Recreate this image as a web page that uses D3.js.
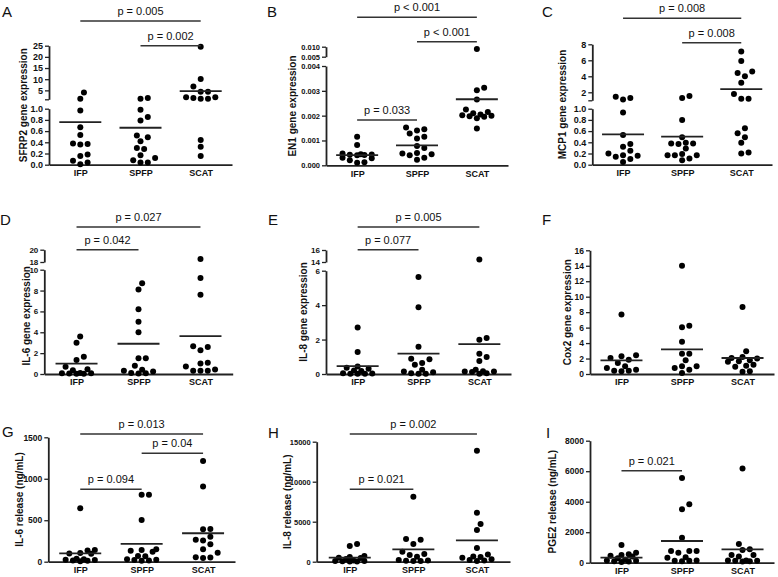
<!DOCTYPE html>
<html lang="en">
<head>
<meta charset="UTF-8">
<title>Fat depot gene expression and release</title>
<style>
  body { margin: 0; background: #fff; }
  svg { display: block; font-family: Arial, "Liberation Sans", Helvetica, sans-serif; }
  .axis path, .axis line { stroke: #222; }
  .axis path { stroke-width: 1.8px; }
  .axis line { stroke-width: 1.3px; }
  .axis text { fill: #111; font-weight: bold; }
  .xaxis text { font-size: 9px; }
  .ylabel { font-size: 10px; font-weight: bold; fill: #111; }
  .letter { font-size: 15px; fill: #111; }
  .ptext { font-size: 11px; fill: #111; }
  .bar { stroke: #333; stroke-width: 1.6px; }
  .mean { stroke: #222; stroke-width: 1.8px; }
  .dot { fill: #000; }
</style>
</head>
<body>
<svg id="fig" width="778" height="577"></svg>

<script src="https://d3js.org/d3.v7.min.js"></script>
<script>
// ---- data ----
const groups = ["IFP", "SPFP", "SCAT"];

// A  SFRP2 gene expression
const sfrp2 = [
  [4.1, 1.3, 0.97, 0.67, 0.53, 0.38, 0.37, 0.36, 0.18, 0.155, 0.07, 0.04, 0.01],
  [1.6, 1.2, 0.98, 0.85, 0.79, 0.52, 0.49, 0.42, 0.30, 0.28, 0.17, 0.12, 0.08, 0.04, 0.04],
  [24.5, 10.1, 6.7, 4.4, 4.4, 1.9, 1.9, 1.6, 1.3, 1.3, 0.44, 0.32, 0.155]
];
const sfrp2Mean = [0.76, 0.66, 4.7];
const sfrp2Ticks = [[0, 0.2, 0.4, 0.6, 0.8, 1.0], [1, 5, 10, 15, 20, 25]];
const sfrp2Stats = [["IFP", "SCAT", "p = 0.005"], ["SPFP", "SCAT", "p = 0.002"]];

// B  EN1 gene expression
const en1 = [
  [0.00115, 0.00082, 0.00048, 0.00045, 0.00044, 0.00042, 0.00041, 0.00040, 0.00030, 0.00028, 0.00020, 0.00012, 0.00010],
  [0.00152, 0.00145, 0.00140, 0.00128, 0.00115, 0.00108, 0.00078, 0.00070, 0.00050, 0.00048, 0.00045, 0.00040, 0.00030, 0.00022],
  [0.0088, 0.00312, 0.00302, 0.00265, 0.00225, 0.00215, 0.00210, 0.00205, 0.00202, 0.00200, 0.00198, 0.00196, 0.00190, 0.00148]
];
const en1Mean = [0.00041, 0.0008, 0.00266];
const en1Ticks = [[0, 0.001, 0.002, 0.003, 0.004], [0.005, 0.010]];
const en1Stats = [["IFP", "SCAT", "p < 0.001"], ["SPFP", "SCAT", "p < 0.001"], ["IFP", "SPFP", "p = 0.033"]];

// C  MCP1 gene expression
const mcp1 = [
  [1.45, 1.3, 1.1, 0.93, 0.53, 0.37, 0.32, 0.25, 0.2, 0.17, 0.16, 0.14, 0.1, 0.05],
  [1.55, 1.3, 0.8, 0.49, 0.39, 0.38, 0.38, 0.37, 0.29, 0.19, 0.17, 0.17, 0.17, 0.11, 0.08],
  [7.1, 5.9, 4.6, 4.4, 4.0, 3.2, 1.8, 1.2, 1.2, 0.65, 0.56, 0.49, 0.39, 0.22, 0.2]
];
const mcp1Mean = [0.54, 0.5, 2.4];
const mcp1Ticks = [[0, 0.2, 0.4, 0.6, 0.8, 1.0], [1, 2, 4, 6, 8]];
const mcp1Stats = [["IFP", "SCAT", "p = 0.008"], ["SPFP", "SCAT", "p = 0.008"]];

// D  IL-6 gene expression
const il6Gene = [
  [3.6, 3.0, 1.66, 1.34, 0.7, 0.45, 0.35, 0.1, 0.08, 0.06, 0.04, 0.03, 0.02],
  [8.7, 8.1, 6.2, 5.0, 4.0, 1.5, 1.5, 0.8, 0.4, 0.3, 0.25, 0.1, 0.06, 0.05],
  [18.5, 9.2, 7.6, 2.65, 2.6, 2.27, 1.09, 1.0, 0.73, 0.42, 0.32, 0.32, 0.3]
];
const il6GeneMean = [1.0, 2.9, 3.64];
const il6GeneTicks = [[0, 2, 4, 6, 8, 10], [18, 20]];
const il6GeneStats = [["IFP", "SCAT", "p = 0.027"], ["IFP", "SPFP", "p = 0.042"]];

// E  IL-8 gene expression
const il8Gene = [
  [2.7, 1.28, 0.44, 0.36, 0.3, 0.2, 0.18, 0.05, 0.03, 0.02, 0.02, 0.01],
  [5.63, 3.87, 1.59, 0.89, 0.85, 0.64, 0.54, 0.25, 0.15, 0.1, 0.05, 0.02, 0.02],
  [14.4, 2.09, 1.99, 1.18, 0.99, 0.75, 0.25, 0.16, 0.15, 0.14, 0.12, 0.05, 0.02]
];
const il8GeneMean = [0.46, 1.18, 1.74];
const il8GeneTicks = [[0, 2, 4, 6], [14, 16]];
const il8GeneStats = [["IFP", "SCAT", "p = 0.005"], ["IFP", "SPFP", "p = 0.077"]];

// F  Cox2 gene expression
const cox2 = [
  [7.68, 2.41, 2.29, 2.07, 1.85, 1.42, 1.0, 0.78, 0.56, 0.43, 0.43, 0.34],
  [14.0, 6.25, 6.04, 4.18, 2.63, 2.63, 1.77, 1.0, 1.0, 0.78, 0.56, 0.13],
  [8.67, 2.93, 2.2, 2.07, 2.0, 1.77, 1.64, 1.6, 1.2, 1.08, 0.95, 0.34, 0.3]
];
const cox2Mean = [1.77, 3.19, 2.07];
const cox2Ticks = [[0, 2, 4, 6, 8, 10, 12, 14, 16]];
const cox2Stats = [];

// G  IL-6 release (ng/mL)
const il6Rel = [
  [645, 141, 135, 105, 100, 95, 35, 30, 25, 20, 15, 10, 5],
  [806, 806, 504, 150, 141, 133, 121, 69, 65, 30, 24, 20, 15, 10],
  [1214, 906, 395, 390, 300, 265, 255, 210, 150, 109, 55, 50, 45]
];
const il6RelMean = [101, 214, 343];
const il6RelTicks = [[0, 500, 1000, 1500]];
const il6RelStats = [["IFP", "SCAT", "p = 0.013"], ["SPFP", "SCAT", "p = 0.04"], ["IFP", "SPFP", "p = 0.094"]];

// H  IL-8 release (ng/mL)
const il8Rel = [
  [2200, 1950, 700, 600, 500, 450, 350, 150, 100, 80, 50, 30, 20],
  [8125, 2840, 2750, 2210, 1250, 960, 840, 620, 200, 150, 120, 100, 80],
  [13875, 6125, 4710, 3960, 1710, 900, 650, 600, 500, 300, 200, 150, 100]
];
const il8RelMean = [500, 1550, 2675];
const il8RelTicks = [[0, 5000, 10000, 15000]];
const il8RelStats = [["IFP", "SCAT", "p = 0.002"], ["IFP", "SPFP", "p = 0.021"]];

// I  PGE2 release (ng/mL)
const pge2 = [
  [1160, 650, 550, 500, 450, 400, 300, 200, 150, 120, 100, 80, 50],
  [5546, 3830, 3500, 1640, 770, 770, 770, 660, 360, 330, 150, 130, 120, 100],
  [6180, 1226, 878, 833, 505, 505, 400, 150, 150, 130, 120, 100, 80]
];
const pge2Mean = [328, 1423, 878];
const pge2Ticks = [[0, 2000, 4000, 6000, 8000]];
const pge2Stats = [["IFP", "SPFP", "p = 0.021"]];

// ---- panel layout (pixel boxes, axis segments) ----
const panels = [
  { letter: "A", lx: 2, ly: 17, data: sfrp2, mean: sfrp2Mean, ticks: sfrp2Ticks, stats: sfrp2Stats,
    ylabel: "SFRP2 gene expression", ylabelX: 23, x0: 49, x1: 232, tickFont: 9, fmt: ".1f", upFmt: "d", blankBreak: true,
    segs: [{ domain: [0, 1], range: [164.7, 108.7] }, { domain: [1, 25], range: [99.3, 45.7] }], barY: [21, 45.7] },
  { letter: "B", lx: 267, ly: 17, data: en1, mean: en1Mean, ticks: en1Ticks, stats: en1Stats,
    ylabel: "EN1 gene expression", ylabelX: 292, x0: 326, x1: 508, tickFont: 7.5, fmt: ".3f", upFmt: ".3f",
    segs: [{ domain: [0, 0.004], range: [165.3, 66] }, { domain: [0.005, 0.010], range: [56.7, 46.7] }], barY: [17.3, 41.7, 120] },
  { letter: "C", lx: 542, ly: 17, data: mcp1, mean: mcp1Mean, ticks: mcp1Ticks, stats: mcp1Stats,
    ylabel: "MCP1 gene expression", ylabelX: 562, x0: 592.3, x1: 772, tickFont: 9, fmt: ".1f", upFmt: "d", blankBreak: true,
    segs: [{ domain: [0, 1], range: [164.7, 108.7] }, { domain: [1, 8], range: [100.3, 44.3] }], barY: [18.3, 42.7] },
  { letter: "D", lx: 0, ly: 225, data: il6Gene, mean: il6GeneMean, ticks: il6GeneTicks, stats: il6GeneStats,
    ylabel: "IL-6 gene expression", ylabelX: 26.5, ylabelDy: 4, x0: 44.3, x1: 232.7, tickFont: 8, fmt: "d", upFmt: "d",
    segs: [{ domain: [0, 10], range: [374, 269.7] }, { domain: [18, 20], range: [262, 249.7] }], barY: [227, 249.7] },
  { letter: "E", lx: 268, ly: 225, data: il8Gene, mean: il8GeneMean, ticks: il8GeneTicks, stats: il8GeneStats,
    ylabel: "IL-8 gene expression", ylabelX: 303, x0: 326, x1: 511, tickFont: 8, fmt: "d", upFmt: "d",
    segs: [{ domain: [0, 6], range: [374, 270.7] }, { domain: [14, 16], range: [262, 250] }], barY: [227, 249.7] },
  { letter: "F", lx: 542, ly: 225, data: cox2, mean: cox2Mean, ticks: cox2Ticks, stats: cox2Stats,
    ylabel: "Cox2 gene expression", ylabelX: 567, x0: 590, x1: 774, tickFont: 8.5, fmt: "d",
    segs: [{ domain: [0, 16], range: [374, 250.3] }], barY: [] },
  { letter: "G", lx: 2, ly: 437, data: il6Rel, mean: il6RelMean, ticks: il6RelTicks, stats: il6RelStats,
    ylabel: "IL-6 release (ng/mL)", ylabelX: 19, x0: 48.3, x1: 235, tickFont: 8.5, fmt: "d",
    segs: [{ domain: [0, 1500], range: [561.7, 437.3] }], barY: [434, 453.3, 489.3] },
  { letter: "H", lx: 268, ly: 438, data: il8Rel, mean: il8RelMean, ticks: il8RelTicks, stats: il8RelStats,
    ylabel: "IL-8 release (ng/mL)", ylabelX: 287, x0: 316.7, x1: 510, tickFont: 7.5, fmt: "d",
    segs: [{ domain: [0, 15000], range: [561.7, 441.7] }], barY: [434, 489.3] },
  { letter: "I", lx: 546, ly: 438, data: pge2, mean: pge2Mean, ticks: pge2Ticks, stats: pge2Stats,
    ylabel: "PGE2 release (ng/mL)", ylabelX: 552, x0: 590, x1: 774, tickFont: 8.5, fmt: "d",
    segs: [{ domain: [0, 8000], range: [562.7, 440.7] }], barY: [470.7] }
];

const svg = d3.select("#fig");
svg.append("rect").attr("width", 778).attr("height", 577).attr("fill", "#fff");

const R = 3;          // dot radius
const MEAN_HALF = 21; // half width of mean bar

// beeswarm: bottom points first, nearest free offset on a half-dot grid,
// capped at 5 dots wide (overlap allowed once the row is full, like Prism)
function swarm(values, cx, yf) {
  const pts = values.map(v => ({ v, y: yf(v) })).sort((a, b) => b.y - a.y);
  const placed = [];
  const step = 3.65, minD = 6.6, maxK = 8;
  pts.forEach(pt => {
    let best = null, bestD = -1;
    for (let k = 0; k <= maxK; k++) {
      const off = k === 0 ? 0 : (k % 2 ? 1 : -1) * Math.ceil(k / 2) * step;
      const d = placed.length
        ? d3.min(placed, q => Math.hypot(q.x - (cx + off), q.y - pt.y))
        : Infinity;
      if (d >= minD) { best = off; break; }
      if (d > bestD) { bestD = d; best = off; }
    }
    pt.x = cx + best;
    placed.push(pt);
  });
  return placed;
}

panels.forEach(p => {
  const g = svg.append("g");

  const x = d3.scalePoint().domain(groups).range([p.x0, p.x1]).padding(0.52);
  const segs = p.segs.map((s, i) => ({ ...s, scale: d3.scaleLinear().domain(s.domain).range(s.range), ticks: p.ticks[i] }));
  const y = v => {
    for (const s of segs) if (v >= s.domain[0] && v <= s.domain[1]) return s.scale(v);
    return segs[segs.length - 1].scale(v);
  };
  const y0 = segs[0].range[0];
  const yTop = segs[segs.length - 1].range[1];

  // y axis segments
  segs.forEach((s, i) => {
    const f = d3.format(i === 0 ? p.fmt : p.upFmt);
    const ax = g.append("g")
      .attr("class", "axis")
      .attr("transform", `translate(${p.x0},0)`)
      .call(d3.axisLeft(s.scale)
        .tickValues(s.ticks)
        .tickFormat(d => (i > 0 && p.blankBreak && d === s.domain[0]) ? "" : f(d))
        .tickSize(4)
        .tickSizeOuter(0)
        .tickPadding(2));
    ax.selectAll("text").style("font-size", p.tickFont + "px");
  });

  // x axis
  g.append("g")
    .attr("class", "axis xaxis")
    .attr("transform", `translate(0,${y0})`)
    .call(d3.axisBottom(x).tickSize(0).tickSizeOuter(0).tickPadding(5));

  // dots + mean bars
  groups.forEach((grp, gi) => {
    const pts = swarm(p.data[gi], x(grp), y);
    g.selectAll(null)
      .data(pts)
      .enter()
      .append("circle")
        .attr("class", "dot")
        .attr("cx", d => d.x)
        .attr("cy", d => d.y)
        .attr("r", R);

    g.append("line")
      .attr("class", "mean")
      .attr("x1", x(grp) - MEAN_HALF)
      .attr("x2", x(grp) + MEAN_HALF)
      .attr("y1", y(p.mean[gi]))
      .attr("y2", y(p.mean[gi]));
  });

  // comparison bars
  p.stats.forEach((st, i) => {
    const xa = x(st[0]), xb = x(st[1]), by = p.barY[i];
    g.append("line").attr("class", "bar")
      .attr("x1", xa).attr("x2", xb).attr("y1", by).attr("y2", by);
    g.append("text").attr("class", "ptext")
      .attr("x", (xa + xb) / 2)
      .attr("y", by - 6)
      .attr("text-anchor", "middle")
      .text(st[2]);
  });

  // y label
  g.append("text")
    .attr("class", "ylabel")
    .attr("transform", `translate(${p.ylabelX},${(y0 + yTop) / 2 + (p.ylabelDy || 0)}) rotate(-90)`)
    .attr("text-anchor", "middle")
    .attr("dominant-baseline", "central")
    .text(p.ylabel);

  // panel letter
  g.append("text")
    .attr("class", "letter")
    .attr("x", p.lx)
    .attr("y", p.ly)
    .text(p.letter);
});
</script>
</body>
</html>
